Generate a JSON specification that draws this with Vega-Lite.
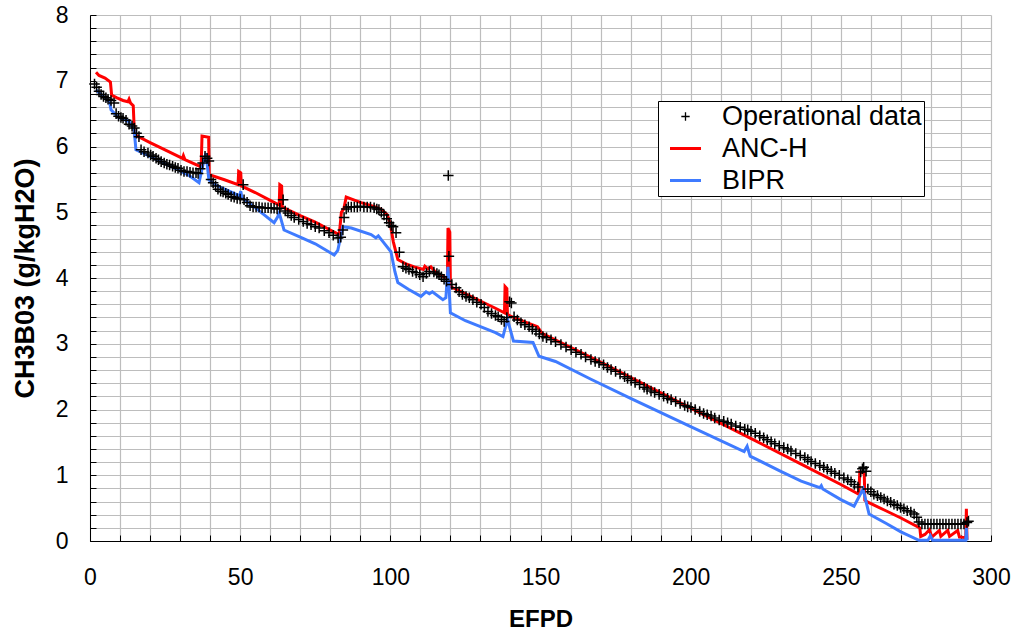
{
  "$schema": "https://vega.github.io/schema/vega-lite/v6.json",
  "width": 901,
  "height": 526,
  "autosize": "none",
  "padding": {"left": 90, "top": 15, "right": 23, "bottom": 94},
  "background": "white",
  "config": {
    "view": {"stroke": null},
    "font": "Liberation Sans",
    "axis": {
      "labelFont": "Liberation Sans",
      "labelFontSize": 23,
      "labelColor": "black",
      "titleFont": "Liberation Sans",
      "titleFontWeight": "bold",
      "titleColor": "black",
      "domainColor": "black",
      "domainWidth": 1,
      "tickColor": "black",
      "tickWidth": 1,
      "gridColor": "#bdbdbd",
      "gridWidth": 1.2,
      "labelOverlap": false,
      "labelFlush": false
    },
    "legend": {
      "orient": "none",
      "legendX": 568,
      "legendY": 86,
      "strokeColor": "black",
      "fillColor": "white",
      "padding": 2,
      "symbolOffset": 12,
      "symbolSize": 961,
      "symbolStrokeWidth": 3,
      "labelOffset": 23,
      "labelFont": "Liberation Sans",
      "labelFontSize": 27,
      "labelColor": "black",
      "rowPadding": 4,
      "labelLimit": 400
    }
  },
  "datasets": {
    "lines": [
      {"series": "ANC-H", "x": 2, "y": 7.13},
      {"series": "ANC-H", "x": 3, "y": 7.08},
      {"series": "ANC-H", "x": 5, "y": 7.04},
      {"series": "ANC-H", "x": 6.8, "y": 6.98},
      {"series": "ANC-H", "x": 7.2, "y": 6.78},
      {"series": "ANC-H", "x": 9, "y": 6.74},
      {"series": "ANC-H", "x": 11, "y": 6.70},
      {"series": "ANC-H", "x": 12.6, "y": 6.68},
      {"series": "ANC-H", "x": 13, "y": 6.72},
      {"series": "ANC-H", "x": 13.5, "y": 6.66},
      {"series": "ANC-H", "x": 14.4, "y": 6.62},
      {"series": "ANC-H", "x": 14.8, "y": 6.18},
      {"series": "ANC-H", "x": 20, "y": 6.06},
      {"series": "ANC-H", "x": 25, "y": 5.95},
      {"series": "ANC-H", "x": 30.8, "y": 5.82},
      {"series": "ANC-H", "x": 31.1, "y": 5.86},
      {"series": "ANC-H", "x": 31.6, "y": 5.80},
      {"series": "ANC-H", "x": 37, "y": 5.69},
      {"series": "ANC-H", "x": 37.3, "y": 6.16},
      {"series": "ANC-H", "x": 39.5, "y": 6.14},
      {"series": "ANC-H", "x": 39.7, "y": 5.57},
      {"series": "ANC-H", "x": 45, "y": 5.49},
      {"series": "ANC-H", "x": 49.3, "y": 5.42},
      {"series": "ANC-H", "x": 49.5, "y": 5.62},
      {"series": "ANC-H", "x": 50.2, "y": 5.60},
      {"series": "ANC-H", "x": 50.4, "y": 5.40},
      {"series": "ANC-H", "x": 55, "y": 5.30},
      {"series": "ANC-H", "x": 60, "y": 5.18},
      {"series": "ANC-H", "x": 63, "y": 5.11},
      {"series": "ANC-H", "x": 63.2, "y": 5.42},
      {"series": "ANC-H", "x": 63.8, "y": 5.40},
      {"series": "ANC-H", "x": 64, "y": 5.08},
      {"series": "ANC-H", "x": 70, "y": 4.95},
      {"series": "ANC-H", "x": 75, "y": 4.85},
      {"series": "ANC-H", "x": 80, "y": 4.73},
      {"series": "ANC-H", "x": 83, "y": 4.66},
      {"series": "ANC-H", "x": 83.7, "y": 5.00},
      {"series": "ANC-H", "x": 84.5, "y": 5.05},
      {"series": "ANC-H", "x": 85.3, "y": 5.23},
      {"series": "ANC-H", "x": 90, "y": 5.15},
      {"series": "ANC-H", "x": 95, "y": 5.08},
      {"series": "ANC-H", "x": 97, "y": 5.04},
      {"series": "ANC-H", "x": 99, "y": 4.96},
      {"series": "ANC-H", "x": 100, "y": 4.82},
      {"series": "ANC-H", "x": 101, "y": 4.55},
      {"series": "ANC-H", "x": 102.5, "y": 4.28},
      {"series": "ANC-H", "x": 105, "y": 4.22},
      {"series": "ANC-H", "x": 108, "y": 4.17},
      {"series": "ANC-H", "x": 111, "y": 4.13},
      {"series": "ANC-H", "x": 111.5, "y": 4.18},
      {"series": "ANC-H", "x": 112.5, "y": 4.14},
      {"series": "ANC-H", "x": 113.5, "y": 4.17},
      {"series": "ANC-H", "x": 115, "y": 4.09},
      {"series": "ANC-H", "x": 117.5, "y": 4.02},
      {"series": "ANC-H", "x": 119, "y": 4.00},
      {"series": "ANC-H", "x": 119.2, "y": 4.76},
      {"series": "ANC-H", "x": 119.8, "y": 4.70},
      {"series": "ANC-H", "x": 120, "y": 3.87},
      {"series": "ANC-H", "x": 125, "y": 3.76},
      {"series": "ANC-H", "x": 130, "y": 3.65},
      {"series": "ANC-H", "x": 135, "y": 3.54},
      {"series": "ANC-H", "x": 138, "y": 3.47},
      {"series": "ANC-H", "x": 138.2, "y": 3.87},
      {"series": "ANC-H", "x": 138.8, "y": 3.84},
      {"series": "ANC-H", "x": 139, "y": 3.45},
      {"series": "ANC-H", "x": 140, "y": 3.42},
      {"series": "ANC-H", "x": 145, "y": 3.33},
      {"series": "ANC-H", "x": 149, "y": 3.26},
      {"series": "ANC-H", "x": 150.5, "y": 3.16},
      {"series": "ANC-H", "x": 170, "y": 2.72},
      {"series": "ANC-H", "x": 200, "y": 2.02},
      {"series": "ANC-H", "x": 220, "y": 1.56},
      {"series": "ANC-H", "x": 236.8, "y": 1.17},
      {"series": "ANC-H", "x": 250, "y": 0.86},
      {"series": "ANC-H", "x": 256, "y": 0.71},
      {"series": "ANC-H", "x": 256.3, "y": 1.05},
      {"series": "ANC-H", "x": 257.8, "y": 1.03},
      {"series": "ANC-H", "x": 258, "y": 0.62},
      {"series": "ANC-H", "x": 259, "y": 0.59},
      {"series": "ANC-H", "x": 265, "y": 0.46},
      {"series": "ANC-H", "x": 270, "y": 0.35},
      {"series": "ANC-H", "x": 276.3, "y": 0.20},
      {"series": "ANC-H", "x": 276.6, "y": 0.07},
      {"series": "ANC-H", "x": 278, "y": 0.10},
      {"series": "ANC-H", "x": 279.5, "y": 0.17},
      {"series": "ANC-H", "x": 280.3, "y": 0.06},
      {"series": "ANC-H", "x": 282.8, "y": 0.16},
      {"series": "ANC-H", "x": 283.3, "y": 0.07},
      {"series": "ANC-H", "x": 285.6, "y": 0.16},
      {"series": "ANC-H", "x": 286.2, "y": 0.07},
      {"series": "ANC-H", "x": 288.9, "y": 0.16},
      {"series": "ANC-H", "x": 289.5, "y": 0.06},
      {"series": "ANC-H", "x": 291.6, "y": 0.05},
      {"series": "ANC-H", "x": 291.8, "y": 0.49},
      {"series": "ANC-H", "x": 292.0, "y": 0.02},
      {"series": "BIPR", "x": 2, "y": 6.86},
      {"series": "BIPR", "x": 3, "y": 6.82},
      {"series": "BIPR", "x": 5, "y": 6.74},
      {"series": "BIPR", "x": 6.5, "y": 6.68},
      {"series": "BIPR", "x": 7, "y": 6.56},
      {"series": "BIPR", "x": 9.3, "y": 6.45},
      {"series": "BIPR", "x": 13, "y": 6.38},
      {"series": "BIPR", "x": 14.7, "y": 6.25},
      {"series": "BIPR", "x": 15.3, "y": 5.95},
      {"series": "BIPR", "x": 20, "y": 5.85},
      {"series": "BIPR", "x": 25, "y": 5.74},
      {"series": "BIPR", "x": 30, "y": 5.63},
      {"series": "BIPR", "x": 33, "y": 5.56},
      {"series": "BIPR", "x": 36.3, "y": 5.45},
      {"series": "BIPR", "x": 37.5, "y": 5.70},
      {"series": "BIPR", "x": 38.6, "y": 5.90},
      {"series": "BIPR", "x": 39.6, "y": 5.49},
      {"series": "BIPR", "x": 42, "y": 5.41},
      {"series": "BIPR", "x": 46, "y": 5.33},
      {"series": "BIPR", "x": 49.8, "y": 5.25},
      {"series": "BIPR", "x": 50.2, "y": 5.32},
      {"series": "BIPR", "x": 50.6, "y": 5.22},
      {"series": "BIPR", "x": 55, "y": 5.07},
      {"series": "BIPR", "x": 58, "y": 4.96},
      {"series": "BIPR", "x": 61.3, "y": 4.84},
      {"series": "BIPR", "x": 62.5, "y": 4.93},
      {"series": "BIPR", "x": 63, "y": 4.99},
      {"series": "BIPR", "x": 64.6, "y": 4.73},
      {"series": "BIPR", "x": 70, "y": 4.62},
      {"series": "BIPR", "x": 75, "y": 4.52},
      {"series": "BIPR", "x": 81.3, "y": 4.35},
      {"series": "BIPR", "x": 82.5, "y": 4.42},
      {"series": "BIPR", "x": 84.2, "y": 4.78},
      {"series": "BIPR", "x": 87, "y": 4.76},
      {"series": "BIPR", "x": 93.6, "y": 4.66},
      {"series": "BIPR", "x": 95.2, "y": 4.61},
      {"series": "BIPR", "x": 96, "y": 4.64},
      {"series": "BIPR", "x": 97.6, "y": 4.55},
      {"series": "BIPR", "x": 100.2, "y": 4.40},
      {"series": "BIPR", "x": 101.5, "y": 4.10},
      {"series": "BIPR", "x": 102.5, "y": 3.93},
      {"series": "BIPR", "x": 106, "y": 3.83},
      {"series": "BIPR", "x": 110.2, "y": 3.72},
      {"series": "BIPR", "x": 111.9, "y": 3.79},
      {"series": "BIPR", "x": 113, "y": 3.76},
      {"series": "BIPR", "x": 114, "y": 3.79},
      {"series": "BIPR", "x": 117.5, "y": 3.67},
      {"series": "BIPR", "x": 118.5, "y": 3.70},
      {"series": "BIPR", "x": 119.2, "y": 4.17},
      {"series": "BIPR", "x": 120, "y": 3.47},
      {"series": "BIPR", "x": 125, "y": 3.35},
      {"series": "BIPR", "x": 130, "y": 3.26},
      {"series": "BIPR", "x": 135, "y": 3.17},
      {"series": "BIPR", "x": 137.5, "y": 3.11},
      {"series": "BIPR", "x": 139, "y": 3.37},
      {"series": "BIPR", "x": 141, "y": 3.04},
      {"series": "BIPR", "x": 147.5, "y": 3.02},
      {"series": "BIPR", "x": 149.5, "y": 2.81},
      {"series": "BIPR", "x": 155, "y": 2.73},
      {"series": "BIPR", "x": 166.8, "y": 2.46},
      {"series": "BIPR", "x": 180, "y": 2.17},
      {"series": "BIPR", "x": 200, "y": 1.74},
      {"series": "BIPR", "x": 217.8, "y": 1.36},
      {"series": "BIPR", "x": 218.8, "y": 1.44},
      {"series": "BIPR", "x": 219.8, "y": 1.29},
      {"series": "BIPR", "x": 230, "y": 1.06},
      {"series": "BIPR", "x": 236.8, "y": 0.91},
      {"series": "BIPR", "x": 243, "y": 0.81},
      {"series": "BIPR", "x": 243.5, "y": 0.84},
      {"series": "BIPR", "x": 244, "y": 0.79},
      {"series": "BIPR", "x": 250, "y": 0.63},
      {"series": "BIPR", "x": 254.4, "y": 0.53},
      {"series": "BIPR", "x": 257.4, "y": 0.79},
      {"series": "BIPR", "x": 259.4, "y": 0.41},
      {"series": "BIPR", "x": 265, "y": 0.27},
      {"series": "BIPR", "x": 270, "y": 0.14},
      {"series": "BIPR", "x": 276, "y": 0.01},
      {"series": "BIPR", "x": 279, "y": 0.01},
      {"series": "BIPR", "x": 279.8, "y": 0.08},
      {"series": "BIPR", "x": 280.6, "y": 0.01},
      {"series": "BIPR", "x": 291.6, "y": 0.01},
      {"series": "BIPR", "x": 291.8, "y": 0.20},
      {"series": "BIPR", "x": 292.0, "y": 0.01}
    ],
    "op": [
      {"x": 1.5, "y": 6.95}, {"x": 2.2, "y": 6.90}, {"x": 3, "y": 6.84}, {"x": 3.7, "y": 6.79},
      {"x": 4.5, "y": 6.76}, {"x": 5.3, "y": 6.74}, {"x": 6, "y": 6.72}, {"x": 7, "y": 6.70},
      {"x": 8, "y": 6.66}, {"x": 8.7, "y": 6.50}, {"x": 9.5, "y": 6.46}, {"x": 10.3, "y": 6.44},
      {"x": 11, "y": 6.43}, {"x": 12, "y": 6.40}, {"x": 13, "y": 6.34}, {"x": 14, "y": 6.31},
      {"x": 14.8, "y": 6.28}, {"x": 15.5, "y": 6.20}, {"x": 16.3, "y": 6.15}, {"x": 17, "y": 5.95},
      {"x": 18, "y": 5.92}, {"x": 19.3, "y": 5.90}, {"x": 20.2, "y": 5.87}, {"x": 21, "y": 5.85},
      {"x": 22, "y": 5.82}, {"x": 22.8, "y": 5.80}, {"x": 23.7, "y": 5.77}, {"x": 24.7, "y": 5.75},
      {"x": 25.6, "y": 5.73}, {"x": 26.5, "y": 5.72}, {"x": 27.5, "y": 5.70}, {"x": 28.4, "y": 5.68},
      {"x": 29.3, "y": 5.67}, {"x": 30.3, "y": 5.64}, {"x": 31.3, "y": 5.62}, {"x": 32.3, "y": 5.62},
      {"x": 33.3, "y": 5.61}, {"x": 34.3, "y": 5.60}, {"x": 35.3, "y": 5.60}, {"x": 36, "y": 5.59},
      {"x": 36.7, "y": 5.66}, {"x": 37.5, "y": 5.75}, {"x": 38.3, "y": 5.85}, {"x": 39, "y": 5.82},
      {"x": 39.6, "y": 5.78}, {"x": 40.3, "y": 5.50}, {"x": 41, "y": 5.45}, {"x": 41.8, "y": 5.40},
      {"x": 42.6, "y": 5.35}, {"x": 43.5, "y": 5.32}, {"x": 44.3, "y": 5.31}, {"x": 45.2, "y": 5.29},
      {"x": 46, "y": 5.27}, {"x": 47, "y": 5.24}, {"x": 48, "y": 5.23}, {"x": 49, "y": 5.21},
      {"x": 50, "y": 5.20}, {"x": 51, "y": 5.42}, {"x": 51.3, "y": 5.19}, {"x": 52.3, "y": 5.15},
      {"x": 53.3, "y": 5.10}, {"x": 54.3, "y": 5.08}, {"x": 55.3, "y": 5.08}, {"x": 56.3, "y": 5.08},
      {"x": 57.3, "y": 5.07}, {"x": 58.3, "y": 5.07}, {"x": 59.3, "y": 5.07}, {"x": 60.3, "y": 5.06},
      {"x": 61.3, "y": 5.06}, {"x": 62.3, "y": 5.05}, {"x": 63.2, "y": 5.06}, {"x": 64.3, "y": 5.19},
      {"x": 65, "y": 5.02}, {"x": 65.9, "y": 4.99}, {"x": 67, "y": 4.95}, {"x": 68, "y": 4.92},
      {"x": 69.5, "y": 4.89}, {"x": 71, "y": 4.86}, {"x": 72.3, "y": 4.83}, {"x": 73.6, "y": 4.81},
      {"x": 75, "y": 4.78}, {"x": 76.3, "y": 4.76}, {"x": 78, "y": 4.72}, {"x": 79.6, "y": 4.69},
      {"x": 81, "y": 4.65}, {"x": 82.6, "y": 4.61}, {"x": 83.5, "y": 4.62}, {"x": 84.2, "y": 4.73},
      {"x": 84.6, "y": 4.92}, {"x": 85.3, "y": 5.05}, {"x": 86, "y": 5.08}, {"x": 87, "y": 5.08},
      {"x": 88, "y": 5.08}, {"x": 89, "y": 5.08}, {"x": 90, "y": 5.09}, {"x": 91.2, "y": 5.08},
      {"x": 92.3, "y": 5.08}, {"x": 93.4, "y": 5.08}, {"x": 94.6, "y": 5.07}, {"x": 95.5, "y": 5.05},
      {"x": 96.2, "y": 5.04}, {"x": 97, "y": 5.00}, {"x": 97.9, "y": 4.96}, {"x": 98.8, "y": 4.90},
      {"x": 99.6, "y": 4.84}, {"x": 100.3, "y": 4.80}, {"x": 100.9, "y": 4.78}, {"x": 101.9, "y": 4.69},
      {"x": 103, "y": 4.39}, {"x": 104.2, "y": 4.17}, {"x": 105.2, "y": 4.15}, {"x": 106.2, "y": 4.13},
      {"x": 107.4, "y": 4.10}, {"x": 108.6, "y": 4.08}, {"x": 109.8, "y": 4.05}, {"x": 110.9, "y": 4.02},
      {"x": 112, "y": 4.07}, {"x": 113, "y": 4.10}, {"x": 114.5, "y": 4.09}, {"x": 115.5, "y": 4.07},
      {"x": 116.2, "y": 4.05}, {"x": 117, "y": 4.02}, {"x": 117.9, "y": 3.98}, {"x": 118.7, "y": 3.95},
      {"x": 119.3, "y": 5.56}, {"x": 119.5, "y": 4.33}, {"x": 120.5, "y": 3.90}, {"x": 121.9, "y": 3.85},
      {"x": 122.9, "y": 3.79}, {"x": 124, "y": 3.75}, {"x": 125.2, "y": 3.72}, {"x": 126.3, "y": 3.70},
      {"x": 127.5, "y": 3.67}, {"x": 128.8, "y": 3.63}, {"x": 130.2, "y": 3.60}, {"x": 131.3, "y": 3.55},
      {"x": 132.5, "y": 3.49}, {"x": 133.7, "y": 3.46}, {"x": 135, "y": 3.43}, {"x": 135.9, "y": 3.41},
      {"x": 137, "y": 3.37}, {"x": 137.9, "y": 3.34}, {"x": 138.8, "y": 3.40}, {"x": 139.7, "y": 3.64},
      {"x": 140.3, "y": 3.62}, {"x": 141.2, "y": 3.41}, {"x": 142.3, "y": 3.36}, {"x": 143.5, "y": 3.32},
      {"x": 144.8, "y": 3.29}, {"x": 146.2, "y": 3.26}, {"x": 147.3, "y": 3.22}, {"x": 148.5, "y": 3.19},
      {"x": 149.6, "y": 3.15}, {"x": 150.8, "y": 3.11}, {"x": 152, "y": 3.09}, {"x": 153.5, "y": 3.06},
      {"x": 155, "y": 3.03}, {"x": 156.8, "y": 2.99}, {"x": 158.5, "y": 2.95}, {"x": 160.2, "y": 2.91},
      {"x": 161.8, "y": 2.87}, {"x": 163.5, "y": 2.84}, {"x": 165, "y": 2.80}, {"x": 166.8, "y": 2.76},
      {"x": 168.2, "y": 2.73}, {"x": 169.5, "y": 2.71}, {"x": 171, "y": 2.68}, {"x": 172.3, "y": 2.64},
      {"x": 173.5, "y": 2.61}, {"x": 175, "y": 2.58}, {"x": 176.5, "y": 2.54}, {"x": 178, "y": 2.50},
      {"x": 179, "y": 2.47}, {"x": 180.2, "y": 2.44}, {"x": 181.5, "y": 2.41}, {"x": 183, "y": 2.38},
      {"x": 184.5, "y": 2.34}, {"x": 185.5, "y": 2.31}, {"x": 186.8, "y": 2.28}, {"x": 188, "y": 2.26},
      {"x": 189.5, "y": 2.23}, {"x": 191, "y": 2.20}, {"x": 192.3, "y": 2.17}, {"x": 193.5, "y": 2.15},
      {"x": 195, "y": 2.12}, {"x": 196.5, "y": 2.09}, {"x": 198, "y": 2.06}, {"x": 199, "y": 2.04},
      {"x": 200.1, "y": 2.03}, {"x": 201.5, "y": 2.00}, {"x": 203, "y": 1.97}, {"x": 204.3, "y": 1.94},
      {"x": 205.5, "y": 1.92}, {"x": 206.8, "y": 1.90}, {"x": 208, "y": 1.87}, {"x": 209.5, "y": 1.84},
      {"x": 211, "y": 1.82}, {"x": 212.3, "y": 1.80}, {"x": 213.5, "y": 1.78}, {"x": 215, "y": 1.75},
      {"x": 216.5, "y": 1.73}, {"x": 218, "y": 1.70}, {"x": 219, "y": 1.69}, {"x": 220.1, "y": 1.67},
      {"x": 221.5, "y": 1.64}, {"x": 223, "y": 1.60}, {"x": 224.3, "y": 1.57}, {"x": 225.5, "y": 1.54},
      {"x": 226.8, "y": 1.51}, {"x": 228, "y": 1.48}, {"x": 229.5, "y": 1.45}, {"x": 231, "y": 1.42},
      {"x": 232.3, "y": 1.40}, {"x": 233.4, "y": 1.37}, {"x": 235, "y": 1.33}, {"x": 236.5, "y": 1.30},
      {"x": 238, "y": 1.27}, {"x": 239, "y": 1.24}, {"x": 240.1, "y": 1.21}, {"x": 241.5, "y": 1.18},
      {"x": 243, "y": 1.15}, {"x": 244.3, "y": 1.12}, {"x": 245.5, "y": 1.09}, {"x": 246.8, "y": 1.06},
      {"x": 248, "y": 1.03}, {"x": 249.5, "y": 1.00}, {"x": 251, "y": 0.96}, {"x": 252.3, "y": 0.93},
      {"x": 253.4, "y": 0.90}, {"x": 254.5, "y": 0.86}, {"x": 255.7, "y": 0.82}, {"x": 256.6, "y": 1.05},
      {"x": 257.2, "y": 1.10}, {"x": 257.6, "y": 1.12}, {"x": 258.4, "y": 1.06}, {"x": 259, "y": 0.79},
      {"x": 260, "y": 0.75}, {"x": 261, "y": 0.71}, {"x": 262.2, "y": 0.69}, {"x": 263.3, "y": 0.66},
      {"x": 264.4, "y": 0.64}, {"x": 265.5, "y": 0.61}, {"x": 266.6, "y": 0.59}, {"x": 267.7, "y": 0.56},
      {"x": 268.8, "y": 0.54}, {"x": 269.9, "y": 0.51}, {"x": 271, "y": 0.49}, {"x": 272.1, "y": 0.46},
      {"x": 273.3, "y": 0.44}, {"x": 274.4, "y": 0.41}, {"x": 275.3, "y": 0.36}, {"x": 276, "y": 0.29},
      {"x": 277, "y": 0.26}, {"x": 278, "y": 0.26}, {"x": 279, "y": 0.26}, {"x": 280, "y": 0.26},
      {"x": 281, "y": 0.26}, {"x": 282, "y": 0.26}, {"x": 283, "y": 0.26}, {"x": 284, "y": 0.26},
      {"x": 285, "y": 0.26}, {"x": 286, "y": 0.26}, {"x": 287, "y": 0.26}, {"x": 288, "y": 0.26},
      {"x": 289, "y": 0.26}, {"x": 290, "y": 0.26}, {"x": 291, "y": 0.26}, {"x": 292, "y": 0.28},
      {"x": 292.5, "y": 0.30}
    ]
  },
  "encoding": {
    "x": {
      "field": "x", "type": "quantitative",
      "scale": {"domain": [0, 300], "nice": false, "zero": false},
      "axis": {
        "title": "EFPD",
        "titleFontSize": 24,
        "titlePadding": 18,
        "values": [0,10,20,30,40,50,60,70,80,90,100,110,120,130,140,150,160,170,180,190,200,210,220,230,240,250,260,270,280,290,300],
        "labelExpr": "datum.value % 50 === 0 ? format(datum.value, 'd') : ''",
        "tickSize": -6,
        "labelPadding": 31,
        "grid": true
      }
    },
    "y": {
      "field": "y", "type": "quantitative",
      "scale": {"domain": [0, 8], "nice": false},
      "axis": {
        "title": "CH3B03 (g/kgH2O)",
        "titleFontSize": 27,
        "titlePadding": 16,
        "values": [0,0.2,0.4,0.6,0.8,1,1.2,1.4,1.6,1.8,2,2.2,2.4,2.6,2.8,3,3.2,3.4,3.6,3.8,4,4.2,4.4,4.6,4.8,5,5.2,5.4,5.6,5.8,6,6.2,6.4,6.6,6.8,7,7.2,7.4,7.6,7.8,8],
        "labelExpr": "datum.value % 1 === 0 ? format(datum.value, 'd') : ''",
        "tickSize": -6,
        "labelPadding": 28,
        "grid": true
      }
    }
  },
  "layer": [
    {
      "data": {"name": "lines"},
      "mark": {"type": "line", "strokeWidth": 3},
      "encoding": {
        "color": {
          "field": "series", "type": "nominal",
          "scale": {"domain": ["Operational data", "ANC-H", "BIPR"], "range": ["#000000", "#ff0000", "#3f7bff"]},
          "legend": {"title": null, "encode": {"symbols": {"update": {"strokeWidth": {"signal": "datum.value === 'Operational data' ? 1.3 : 3"}}}}}
        },
        "detail": {"field": "series"}
      }
    },
    {
      "data": {"name": "op"},
      "transform": [{"calculate": "'Operational data'", "as": "series"}],
      "mark": {"type": "point", "filled": false, "size": 1521, "strokeWidth": 1.5, "opacity": 1},
      "encoding": {
        "color": {"field": "series", "type": "nominal"},
        "shape": {
          "field": "series", "type": "nominal",
          "scale": {"domain": ["Operational data", "ANC-H", "BIPR"], "range": ["M-0.27,0H0.27M0,-0.27V0.27", "stroke", "stroke"]},
          "legend": {"title": null, "encode": {"symbols": {"update": {"strokeWidth": {"signal": "datum.value === 'Operational data' ? 1.3 : 3"}}}}}
        }
      }
    }
  ]
}
